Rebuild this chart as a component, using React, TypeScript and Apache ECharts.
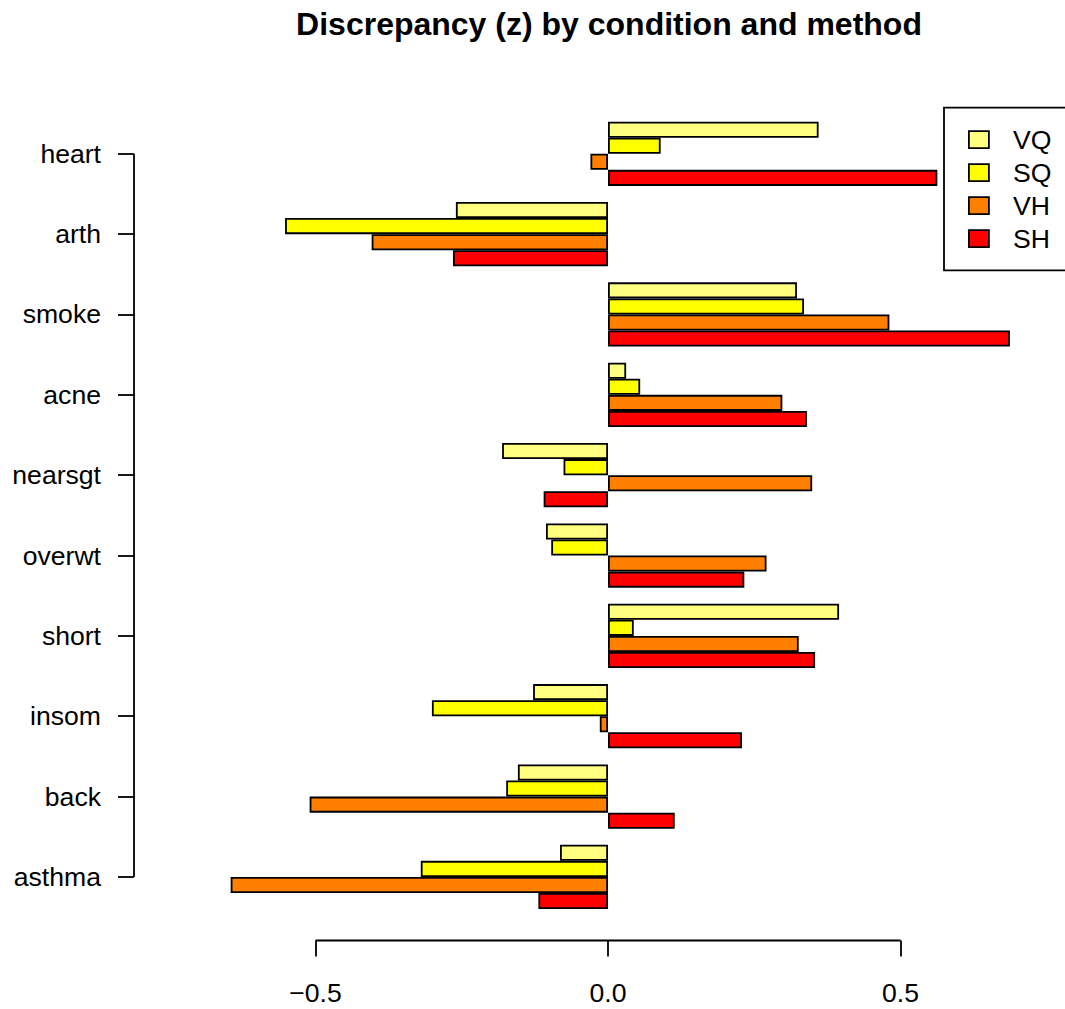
import React, { useEffect, useRef } from 'react';
import * as echarts from 'echarts';

const categories = ['heart', 'arth', 'smoke', 'acne', 'nearsgt', 'overwt', 'short', 'insom', 'back', 'asthma'];
const seriesNames = ['VQ', 'SQ', 'VH', 'SH'];
const vqValues = [0.360, -0.260, 0.323, 0.031, -0.181, -0.106, 0.395, -0.128, -0.154, -0.082];
const sqValues = [0.090, -0.552, 0.335, 0.055, -0.076, -0.097, 0.044, -0.301, -0.174, -0.320];
const vhValues = [-0.030, -0.404, 0.481, 0.298, 0.349, 0.271, 0.326, -0.014, -0.510, -0.645];
const shValues = [0.563, -0.265, 0.687, 0.340, -0.110, 0.233, 0.354, 0.229, 0.114, -0.119];
const seriesColors = ['#FFFF80', '#FFFF00', '#FF8000', '#FF0000'];
const xTickValues = [-0.5, 0, 0.5];
const xTickLabels = ['\u22120.5', '0.0', '0.5'];
const titleText = 'Discrepancy (z) by condition and method';

export default function App() {
  const ref = useRef<HTMLDivElement>(null);
  useEffect(() => {
    const chart = echarts.init(ref.current!, null, { renderer: 'svg' });
    const FONT = '"Liberation Sans", Arial, Helvetica, sans-serif';
    const gridLeft = 198.5;
    const gridTop = 113.6;
    const gridWidth = 848.25;
    const gridHeight = 803.5;
    const yAxisX = 134;
    const xAxisY = 940.5;
    const fs = 26.6;
    const lw = 1.8;
    const allValues = [vqValues, sqValues, vhValues, shValues];

    chart.setOption({
      animation: false,
      backgroundColor: '#ffffff',
      grid: {
        left: gridLeft,
        top: gridTop,
        width: gridWidth,
        height: gridHeight,
        containLabel: false,
        outerBoundsMode: 'none',
      },
      xAxis: {
        type: 'value',
        min: -0.7,
        max: 0.75,
        offset: xAxisY - (gridTop + gridHeight),
        splitLine: { show: false },
        axisLine: { show: false, onZero: false },
        axisTick: {
          show: true,
          length: 16,
          customValues: xTickValues,
          lineStyle: { color: '#000', width: lw },
        },
        axisLabel: {
          show: true,
          customValues: xTickValues,
          margin: 39,
          color: '#000',
          fontSize: fs,
          fontFamily: FONT,
          formatter: (v: number) => {
            const i = xTickValues.findIndex((t) => Math.abs(t - v) < 1e-9);
            return i >= 0 ? xTickLabels[i] : '';
          },
        },
      },
      yAxis: {
        type: 'category',
        data: categories,
        inverse: true,
        offset: gridLeft - yAxisX,
        axisLine: { show: false, onZero: false },
        axisTick: {
          show: true,
          alignWithLabel: true,
          length: 16,
          lineStyle: { color: '#000', width: lw },
        },
        axisLabel: {
          interval: 0,
          margin: 33,
          color: '#000',
          fontSize: fs,
          fontFamily: FONT,
        },
        splitLine: { show: false },
      },
      legend: {
        orient: 'vertical',
        left: 944,
        top: 107.7,
        data: seriesNames,
        icon: 'rect',
        itemWidth: 20,
        itemHeight: 17,
        itemGap: 0,
        padding: [15.5, 60, 15.2, 24],
        borderColor: '#000',
        borderWidth: lw,
        borderRadius: 0,
        backgroundColor: '#ffffff',
        selectedMode: false,
        itemStyle: { borderColor: '#000', borderWidth: lw },
        textStyle: {
          color: '#000',
          fontSize: fs,
          fontFamily: FONT,
          lineHeight: 33,
          padding: [0, 0, 0, 19],
        },
      },
      series: seriesNames.map((name, i) => ({
        name,
        type: 'bar',
        data: allValues[i],
        barWidth: 16.07,
        barGap: '0%',
        itemStyle: {
          color: seriesColors[i],
          borderColor: '#000',
          borderWidth: lw,
        },
        emphasis: { disabled: true },
      })),
    });

    const yFirst = chart.convertToPixel({ yAxisIndex: 0 }, categories[0]) as number;
    const yLast = chart.convertToPixel({ yAxisIndex: 0 }, categories[categories.length - 1]) as number;
    const xFirst = chart.convertToPixel({ xAxisIndex: 0 }, xTickValues[0]) as number;
    const xLast = chart.convertToPixel({ xAxisIndex: 0 }, xTickValues[xTickValues.length - 1]) as number;

    chart.setOption({
      graphic: [
        {
          type: 'line',
          shape: { x1: yAxisX, y1: yFirst, x2: yAxisX, y2: yLast },
          style: { stroke: '#000', lineWidth: lw },
          silent: true,
        },
        {
          type: 'line',
          shape: { x1: xFirst, y1: xAxisY, x2: xLast, y2: xAxisY },
          style: { stroke: '#000', lineWidth: lw },
          silent: true,
        },
        {
          type: 'text',
          x: 609,
          y: 23.5,
          style: {
            text: titleText,
            fill: '#000',
            font: 'bold 32px "Liberation Sans", Arial, Helvetica, sans-serif',
            textAlign: 'center',
            textVerticalAlign: 'middle',
          },
          silent: true,
        },
      ],
    });

    return () => chart.dispose();
  }, []);
  return (
    <div
      ref={ref}
      style={{ position: 'absolute', left: 0, top: 0, width: 1065, height: 1009 }}
    />
  );
}
